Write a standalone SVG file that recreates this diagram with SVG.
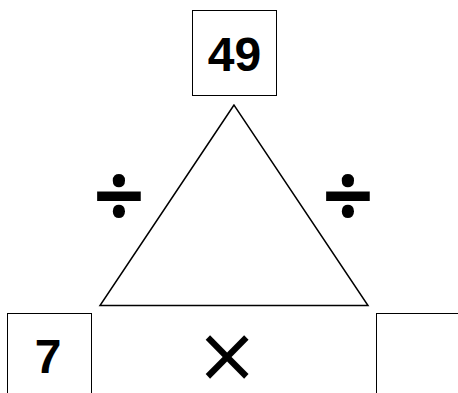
<svg xmlns="http://www.w3.org/2000/svg" width="458" height="393" viewBox="0 0 458 393">
<style>
.box{fill:#fff;stroke:#000;stroke-width:1}
.num{font-family:"Liberation Sans",Arial,sans-serif;font-weight:bold;font-size:48px;text-anchor:middle;fill:#000}
.op{font-family:"DejaVu Sans",sans-serif;font-size:76px;text-anchor:middle;fill:#000}
.div{font-family:"Noto Sans",sans-serif;font-weight:bold;font-size:90px}
</style>
<rect width="458" height="393" fill="#fff"/>
<g id="connectors">
<polygon points="234,105 100,305.5 368,305.5" fill="none" stroke="#000" stroke-width="1.5"/>
</g>
<g id="top">
<rect class="box" x="192.5" y="10.5" width="84" height="85"/>
<text class="num" x="234.5" y="71">49</text>
</g>
<g id="left">
<rect class="box" x="7.5" y="313.5" width="84" height="100"/>
<text class="num" x="48" y="373">7</text>
</g>
<g id="right">
<rect class="box" x="376.5" y="313.5" width="100" height="100"/>
</g>
<g id="div-left"><text class="op div" x="119" y="228">÷</text></g>
<g id="div-right"><text class="op div" x="348" y="228">÷</text></g>
<g id="times"><text class="op" x="227" y="381">×</text></g>
</svg>
